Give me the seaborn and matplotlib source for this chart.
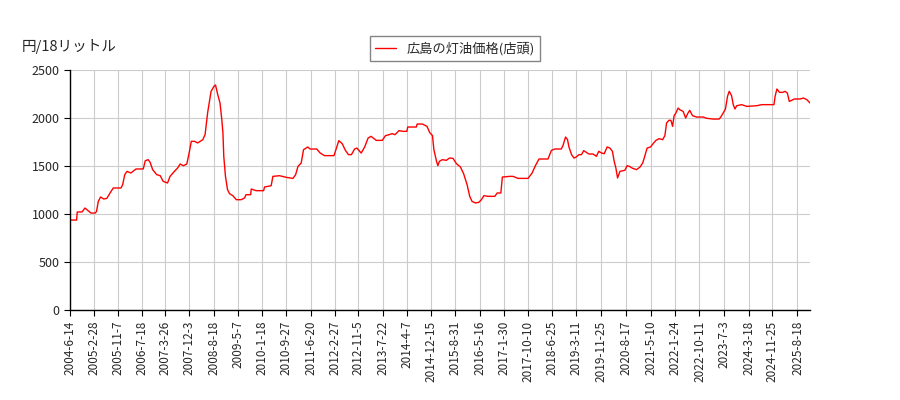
import pandas as pd
import matplotlib
matplotlib.use("Agg")
import matplotlib.pyplot as plt
import seaborn as sns

# weekly kerosene price, yen per 18 litres
dates = [
    "2004-06-14", "2004-08-23", "2004-08-30", "2004-10-20", "2004-11-20", "2005-01-23",
    "2005-03-09", "2005-03-23", "2005-04-11", "2005-05-05", "2005-06-08", "2005-07-11",
    "2005-08-14", "2005-09-17", "2005-12-08", "2005-12-26", "2006-01-17", "2006-02-10",
    "2006-03-23", "2006-05-17", "2006-08-02", "2006-08-23", "2006-09-23", "2006-10-14",
    "2006-11-10", "2006-12-23", "2007-01-29", "2007-03-02", "2007-04-17", "2007-05-14",
    "2007-06-29", "2007-08-02", "2007-08-29", "2007-10-02", "2007-11-08", "2007-11-29",
    "2007-12-26", "2008-01-29", "2008-03-02", "2008-04-26", "2008-05-20", "2008-06-17",
    "2008-07-23", "2008-08-23", "2008-09-08", "2008-10-02", "2008-10-26", "2008-11-14",
    "2008-11-26", "2008-12-05", "2008-12-23", "2009-01-14", "2009-02-04", "2009-03-11",
    "2009-04-17", "2009-06-08", "2009-07-14", "2009-07-29", "2009-09-17", "2009-09-23",
    "2009-11-14", "2010-02-02", "2010-02-11", "2010-04-23", "2010-05-11", "2010-07-20",
    "2010-09-29", "2010-12-11", "2011-01-08", "2011-02-02", "2011-03-08", "2011-04-02",
    "2011-05-17", "2011-06-11", "2011-08-20", "2011-09-26", "2011-11-11", "2012-02-20",
    "2012-03-14", "2012-04-11", "2012-05-17", "2012-06-20", "2012-07-23", "2012-08-23",
    "2012-09-26", "2012-10-20", "2012-12-05", "2013-01-11", "2013-02-17", "2013-03-20",
    "2013-05-14", "2013-07-17", "2013-08-20", "2013-09-26", "2013-11-02", "2013-11-29",
    "2014-01-11", "2014-02-23", "2014-04-05", "2014-04-14", "2014-07-14", "2014-07-23",
    "2014-09-17", "2014-11-05", "2014-12-02", "2015-01-02", "2015-01-17", "2015-02-14",
    "2015-02-28", "2015-03-17", "2015-04-17", "2015-05-29", "2015-07-02", "2015-08-08",
    "2015-09-14", "2015-10-26", "2015-11-29", "2016-01-05", "2016-02-02", "2016-02-26",
    "2016-04-02", "2016-05-08", "2016-06-05", "2016-07-02", "2016-08-14", "2016-10-26",
    "2016-11-20", "2016-12-29", "2017-01-14", "2017-04-02", "2017-05-08", "2017-06-29",
    "2017-10-14", "2017-11-26", "2018-01-02", "2018-02-08", "2018-05-14", "2018-06-20",
    "2018-07-26", "2018-10-02", "2018-10-20", "2018-11-17", "2018-12-08", "2018-12-23",
    "2019-01-20", "2019-02-14", "2019-03-11", "2019-04-08", "2019-05-05", "2019-05-29",
    "2019-06-26", "2019-07-23", "2019-09-05", "2019-10-11", "2019-11-05", "2019-12-05",
    "2020-01-02", "2020-02-02", "2020-03-02", "2020-03-29", "2020-04-17", "2020-05-05",
    "2020-05-23", "2020-06-17", "2020-08-08", "2020-09-02", "2020-09-26", "2020-10-29",
    "2020-12-11", "2021-01-17", "2021-02-14", "2021-03-08", "2021-04-02", "2021-05-08",
    "2021-06-05", "2021-07-05", "2021-08-08", "2021-09-14", "2021-10-08", "2021-10-26",
    "2021-11-20", "2021-12-11", "2021-12-29", "2022-01-14", "2022-02-02", "2022-02-26",
    "2022-03-14", "2022-04-20", "2022-05-17", "2022-06-11", "2022-06-29", "2022-07-29",
    "2022-09-11", "2022-11-20", "2022-12-26", "2023-03-05", "2023-05-08", "2023-05-23",
    "2023-06-20", "2023-07-14", "2023-08-05", "2023-08-23", "2023-09-17", "2023-10-05",
    "2023-10-23", "2023-11-11", "2024-01-02", "2024-02-26", "2024-06-11", "2024-08-02",
    "2024-12-11", "2024-12-23", "2025-01-11", "2025-02-08", "2025-03-14", "2025-04-08",
    "2025-05-02", "2025-05-23", "2025-06-17", "2025-07-14", "2025-09-14", "2025-10-20",
    "2025-11-26", "2025-12-29",
]
prices = [
    937, 937, 1021, 1021, 1062, 1010,
    1010, 1027, 1132, 1177, 1156, 1163,
    1219, 1271, 1271, 1305, 1410, 1444,
    1427, 1469, 1469, 1555, 1566, 1538,
    1462, 1410, 1399, 1340, 1323, 1392,
    1444, 1479, 1521, 1503, 1521, 1618,
    1757, 1757, 1740, 1774, 1826, 2059,
    2278, 2330, 2344, 2243, 2156, 1983,
    1844, 1601, 1392, 1253, 1212, 1191,
    1149, 1149, 1167, 1201, 1201, 1260,
    1243, 1243, 1281, 1295, 1392, 1399,
    1382, 1371, 1410, 1496, 1531, 1670,
    1698, 1677, 1677, 1635, 1608, 1608,
    1677, 1764, 1733, 1663, 1618, 1618,
    1677, 1687, 1635, 1698, 1792, 1809,
    1767, 1767, 1816, 1826, 1837, 1826,
    1868, 1861, 1861, 1906, 1906, 1937,
    1937, 1913, 1851, 1816, 1670, 1549,
    1503, 1549, 1566, 1559, 1583, 1580,
    1524, 1490, 1420, 1305, 1184, 1132,
    1115, 1121, 1149, 1191, 1184, 1184,
    1219, 1219, 1385, 1392, 1392, 1371,
    1371, 1427, 1507, 1573, 1573, 1663,
    1677, 1677, 1712, 1802, 1774, 1698,
    1618, 1583, 1594, 1618, 1618, 1660,
    1642, 1625, 1625, 1601, 1653, 1635,
    1628, 1698, 1687, 1653, 1549, 1479,
    1375, 1444, 1455, 1503, 1496, 1476,
    1462, 1490, 1531, 1601, 1687, 1698,
    1733, 1767, 1785, 1774, 1816, 1948,
    1976, 1976, 1913, 2024, 2052, 2104,
    2087, 2069, 2000, 2052, 2080, 2024,
    2010, 2010, 1997, 1989, 1989, 2007,
    2052, 2094, 2226, 2278, 2233, 2139,
    2094, 2128, 2139, 2121, 2128, 2139,
    2139, 2226, 2302, 2267, 2267, 2278,
    2260, 2173, 2184, 2198, 2198, 2208,
    2191, 2156,
]

tick_labels = [
    "2004-6-14", "2005-2-28", "2005-11-7", "2006-7-18", "2007-3-26", "2007-12-3",
    "2008-8-18", "2009-5-7", "2010-1-18", "2010-9-27", "2011-6-20", "2012-2-27",
    "2012-11-5", "2013-7-22", "2014-4-7", "2014-12-15", "2015-8-31", "2016-5-16",
    "2017-1-30", "2017-10-10", "2018-6-25", "2019-3-11", "2019-11-25", "2020-8-17",
    "2021-5-10", "2022-1-24", "2022-10-11", "2023-7-3", "2024-3-18", "2024-11-25",
    "2025-8-18",
]
series_name = "広島の灯油価格(店頭)"
unit_label = "円/18リットル"

df = pd.DataFrame({"date": pd.to_datetime(dates), "price": prices})

sns.set_style("white")
plt.rcParams["font.family"] = ["Noto Sans CJK JP", "DejaVu Sans"]

fig = plt.figure(figsize=(9, 4), dpi=100)
ax = fig.add_axes([70 / 900, 90 / 400, 740 / 900, 240 / 400])

sns.lineplot(data=df, x="date", y="price", ax=ax, color="#ff0000",
             linewidth=1, label=series_name)

ax.set_xlim(df["date"].iloc[0], df["date"].iloc[-1])
ax.set_ylim(0, 2500)
ax.set_yticks(range(0, 2501, 500))
ax.set_xticks(pd.to_datetime(tick_labels))
ax.set_xticklabels(tick_labels, rotation=90, fontsize=8.5)
ax.tick_params(axis="y", labelsize=9)
ax.tick_params(axis="both", direction="out", length=4, color="black",
               left=True, bottom=True)
ax.set_xlabel("")
ax.set_ylabel("")

ax.grid(True, color="#cccccc", linewidth=0.8)
ax.set_axisbelow(True)
for side in ["top", "right"]:
    ax.spines[side].set_visible(False)
for side in ["left", "bottom"]:
    ax.spines[side].set_color("black")
    ax.spines[side].set_linewidth(1)

ax.legend(loc="center", bbox_to_anchor=(455 / 900, 1 - 48.5 / 400),
          bbox_transform=fig.transFigure, fontsize=9.5, frameon=True,
          fancybox=False, edgecolor="#666666", handlelength=1.6)

fig.text(22 / 900, 1 - 47 / 400, unit_label, fontsize=10.5, ha="left", va="center")

fig.savefig("out.png", dpi=100)
